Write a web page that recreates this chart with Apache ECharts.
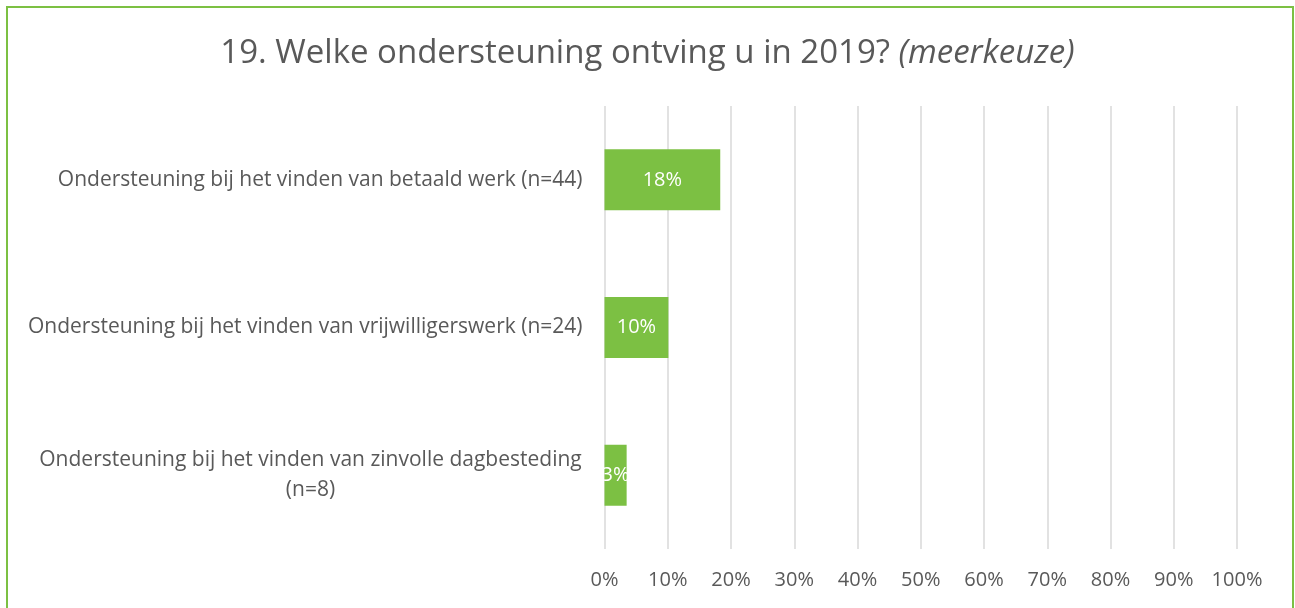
<!DOCTYPE html>
<html>
<head>
<meta charset="utf-8">
<script src="https://cdn.jsdelivr.net/npm/echarts@6/dist/echarts.min.js"></script>
<style>
  html, body { margin: 0; padding: 0; background: #fff; }
  #wrap { position: relative; width: 1295px; height: 608px; }
  #chart { width: 1295px; height: 608px; }
  #frame { position: absolute; left: 6px; top: 6px; width: 1284px; height: 610px; border: 2px solid #7cc043; pointer-events: none; }
</style>
</head>
<body>
<div id="wrap">
  <div id="chart"></div>
  <div id="frame"></div>
</div>
<script>
// categories, top to bottom
var categories = [
  'Ondersteuning bij het vinden van betaald werk (n=44)',
  'Ondersteuning bij het vinden van vrijwilligerswerk (n=24)',
  'Ondersteuning bij het vinden van zinvolle dagbesteding\n(n=8)'
]
// percentages
var values = [18.3, 10.1, 3.5]
var labels = ['18%', '10%', '3%']
var xTicks = [0, 10, 20, 30, 40, 50, 60, 70, 80, 90, 100]

var grey = '#595959'
var green = '#7cc043'
var font = 'Open Sans'

var myChart = echarts.init(document.getElementById('chart'))
myChart.setOption({
  title: {
    text: '{n|19. Welke ondersteuning ontving u in 2019? }{i|(meerkeuze)}',
    left: 'center',
    top: 32,
    textStyle: {
      rich: {
        n: { fontFamily: font, fontSize: 33, color: grey, fontWeight: 'normal' },
        i: { fontFamily: font, fontSize: 33, color: grey, fontWeight: 'normal', fontStyle: 'italic' }
      }
    }
  },
  grid: {
    left: 604.5,
    right: 58,
    top: 106,
    bottom: 59,
    containLabel: false
  },
  xAxis: {
    type: 'value',
    min: 0,
    max: 100,
    interval: 10,
    axisLine: { show: false },
    axisTick: { show: false },
    splitLine: { lineStyle: { color: '#d9d9d9', width: 1.5 } },
    axisLabel: {
      color: grey,
      fontFamily: font,
      fontSize: 20,
      margin: 21,
      formatter: function (v) { return xTicks.indexOf(v) >= 0 ? v + '%' : '' }
    }
  },
  yAxis: {
    type: 'category',
    inverse: true,
    data: categories,
    axisLine: { show: false },
    axisTick: { show: false },
    axisLabel: {
      color: grey,
      fontFamily: font,
      fontSize: 21,
      margin: 22,
      formatter: function (v) {
        if (v.indexOf('\n') >= 0) {
          return v.split('\n').map(function (s) { return '{c|' + s + '}' }).join('\n')
        }
        return v
      },
      rich: {
        c: { width: 544, align: 'center', color: grey, fontFamily: font, fontSize: 21, lineHeight: 30 }
      }
    }
  },
  series: [
    {
      type: 'bar',
      data: values,
      barWidth: 61,
      itemStyle: { color: green },
      label: {
        show: true,
        position: 'inside',
        color: '#fff',
        fontFamily: font,
        fontSize: 20,
        formatter: function (p) { return labels[p.dataIndex] }
      },
      silent: true
    }
  ],
  animation: false
})
</script>
</body>
</html>
